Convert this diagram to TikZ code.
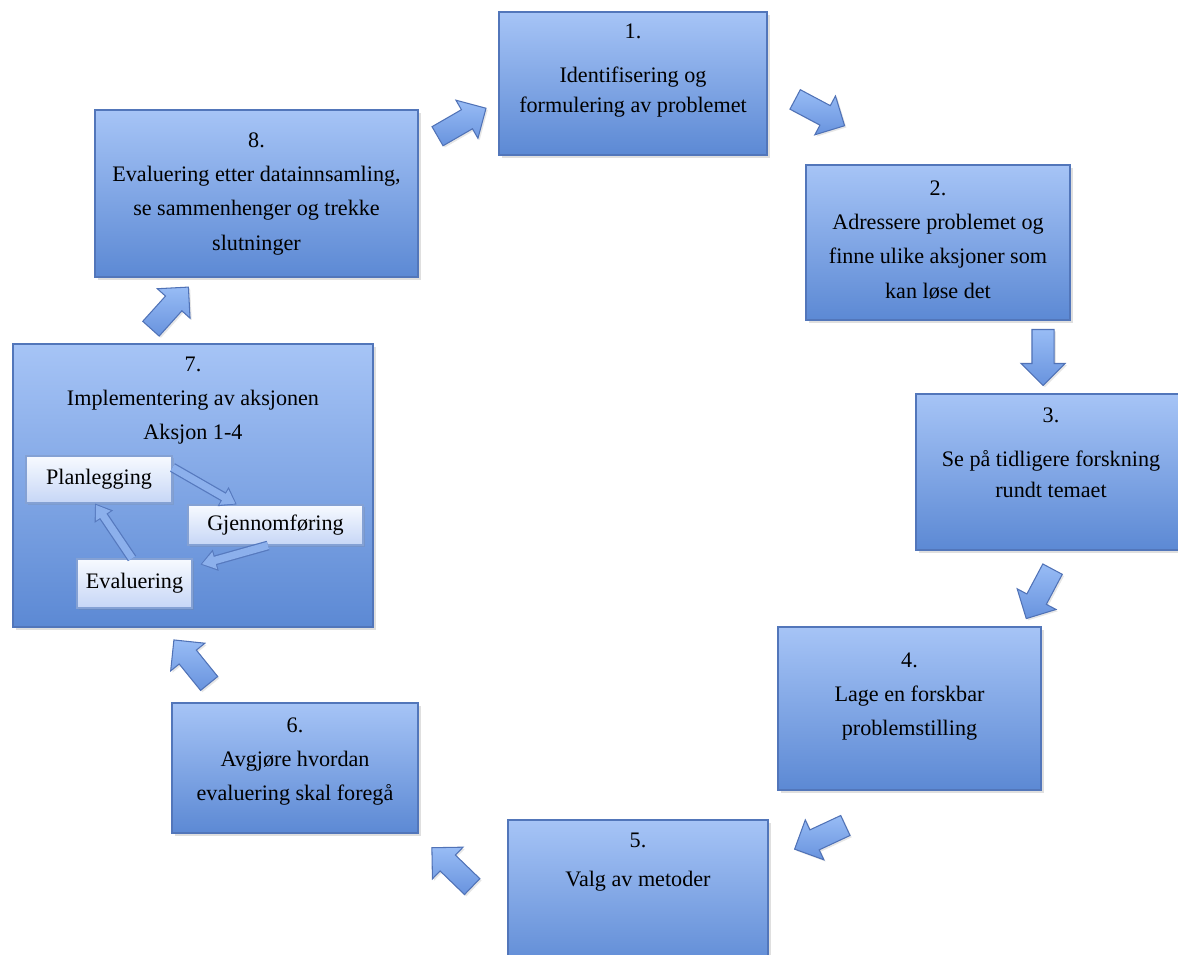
\documentclass[tikz,border=0pt]{standalone}
\usepackage{fontspec}
\setmainfont{Liberation Serif}
\usetikzlibrary{shapes.arrows, shadows, arrows.meta, positioning, calc}

\definecolor{boxtop}{RGB}{166,196,246}
\definecolor{boxbottom}{RGB}{92,137,212}
\definecolor{boxborder}{RGB}{82,118,186}
\definecolor{arrowtop}{RGB}{152,188,245}
\definecolor{arrowbottom}{RGB}{104,147,222}
\definecolor{arrowborder}{RGB}{80,114,182}
\definecolor{subtop}{RGB}{247,250,255}
\definecolor{subbottom}{RGB}{198,214,246}
\definecolor{subborder}{RGB}{132,161,212}
\definecolor{subfill}{RGB}{140,176,236}
\definecolor{subedge}{RGB}{86,121,190}

\tikzset{
  stepbox/.style={rectangle, draw=boxborder, line width=0.7pt, top color=boxtop, bottom color=boxbottom,
    drop shadow={opacity=0.25, shadow xshift=1.5pt, shadow yshift=-1.5pt}},
  steptext/.style={align=center, inner sep=0pt, font=\fontsize{12.6}{19.5}\selectfont},
  cyclearrow/.style={single arrow, draw=arrowborder, line width=0.6pt, top color=arrowtop, bottom color=arrowbottom,
    minimum height=1.12cm, inner sep=0.21cm, single arrow head extend=0.22cm,
    drop shadow={opacity=0.2, shadow xshift=1pt, shadow yshift=-1pt}},
  subbox/.style={rectangle, draw=subborder, line width=0.6pt, top color=subtop, bottom color=subbottom,
    font=\fontsize{12.6}{15}\selectfont, drop shadow={opacity=0.2, shadow xshift=1pt, shadow yshift=-1pt}},
  subarrow/.style={draw=subfill, line width=4.2pt, shorten >=0.9pt, -{Triangle[length=7.5pt,width=9.6pt]},
    preaction={draw=subedge, line width=5.6pt, shorten >=0pt, -{Triangle[length=9pt,width=12pt]}}}
}

\begin{document}
\begin{tikzpicture}[x=0.02cm, y=-0.02cm]
    \useasboundingbox (0,0) rectangle (1178,955);
    \clip (0,0) rectangle (1178,955);

    % the eight steps
    \node (b1) [stepbox, minimum width=5.36cm, minimum height=2.86cm] at (633,83.5) {};
    \node (b2) [stepbox, minimum width=5.28cm, minimum height=3.10cm] at (938,242.5) {};
    \node (b3) [stepbox, minimum width=5.40cm, minimum height=3.12cm] at (1051,472) {};
    \node (b4) [stepbox, minimum width=5.26cm, minimum height=3.26cm] at (909.5,708.5) {};
    \node (b5) [stepbox, minimum width=5.20cm, minimum height=3.10cm] at (638,897.5) {};
    \node (b6) [stepbox, minimum width=4.92cm, minimum height=2.60cm] at (295,768) {};
    \node (b7) [stepbox, minimum width=7.20cm, minimum height=5.66cm] at (193,485.5) {};
    \node (b8) [stepbox, minimum width=6.46cm, minimum height=3.34cm] at (256.5,193.5) {};

    \node (t1) [steptext, below=0.24cm of b1.north] {1.\\[5.5pt]Identifisering og\\[-2.4pt]formulering av problemet};
    \node (t2) [steptext, below=0.32cm of b2.north] {2.\\Adressere problemet og\\finne ulike aksjoner som\\kan løse det};
    \node (t3) [steptext, below=0.28cm of b3.north] {3.\\[5.5pt]Se på tidligere forskning\\[-1.5pt]rundt temaet};
    \node (t4) [steptext, below=0.52cm of b4.north] {4.\\Lage en forskbar\\problemstilling};
    \node (t5) [steptext, below=0.26cm of b5.north] {5.\\[3pt]Valg av metoder};
    \node (t6) [steptext, below=0.30cm of b6.north] {6.\\Avgjøre hvordan\\evaluering skal foregå};
    \node (t7) [steptext, below=0.26cm of b7.north] {7.\\Implementering av aksjonen\\Aksjon 1-4};
    \node (t8) [steptext, below=0.46cm of b8.north] {8.\\Evaluering etter datainnsamling,\\se sammenhenger og trekke\\slutninger};

    % inner cycle of step 7
    \node (plan) [subbox, minimum width=2.92cm, minimum height=0.94cm] at (99,479.5) {Planlegging};
    \node (gjen) [subbox, minimum width=3.50cm, minimum height=0.80cm] at (275.5,525) {Gjennomføring};
    \node (eval) [subbox, minimum width=2.30cm, minimum height=0.98cm] at (134.5,583.5) {Evaluering};

    \draw [subarrow] ([yshift=0.24cm]plan.east) -- ($(gjen.north west)!0.28!(gjen.north east)$);
    \draw [subarrow] ([xshift=-0.15cm]gjen.south) -- ([xshift=0.16cm, yshift=-0.12cm]eval.north east);
    \draw [subarrow] ([xshift=-0.05cm]eval.north) -- ([xshift=-0.08cm]plan.south);

    % block arrows between the steps
    \node (a81) [cyclearrow, rotate=30] at (457,125) {};
    \node (a12) [cyclearrow, rotate=-28] at (815,110) {};
    \node (a23) [cyclearrow, rotate=-90] at (1043,352) {};
    \node (a34) [cyclearrow, rotate=-118] at (1042,589) {};
    \node (a45) [cyclearrow, rotate=205] at (825,835) {};
    \node (a56) [cyclearrow, rotate=136] at (456,871) {};
    \node (a67) [cyclearrow, rotate=129] at (195,666) {};
    \node (a78) [cyclearrow, rotate=48] at (166,312) {};
\end{tikzpicture}
\end{document}
